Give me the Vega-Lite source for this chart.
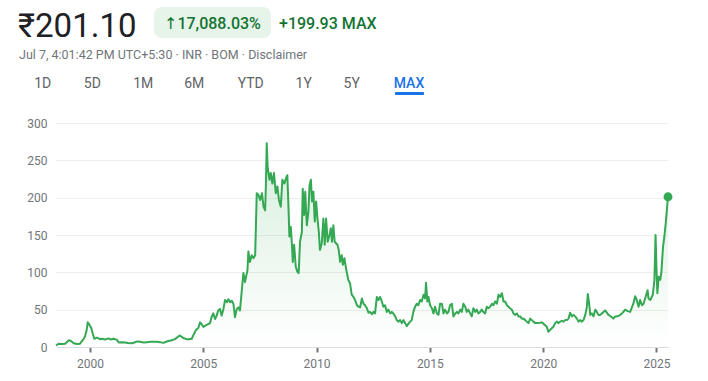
{
  "$schema": "https://vega.github.io/schema/vega-lite/v6.json",
  "width": 612,
  "height": 224,
  "autosize": {"type": "none"},
  "padding": {"left": 56, "top": 123, "right": 40, "bottom": 34},
  "background": "white",
  "config": {"view": {"stroke": null}, "font": "Roboto, 'DejaVu Sans', sans-serif"},
  "data": {"values": [
    {"year":1998.50,"price":2},{"year":1998.63,"price":4.5},{"year":1998.76,"price":4},{"year":1998.90,"price":4.5},{"year":1999.07,"price":9},{"year":1999.16,"price":8},{"year":1999.28,"price":5},{"year":1999.43,"price":4},{"year":1999.56,"price":4.5},{"year":1999.72,"price":11},{"year":1999.78,"price":14},{"year":1999.85,"price":22},{"year":1999.90,"price":33},{"year":1999.97,"price":30},{"year":2000.06,"price":25},{"year":2000.12,"price":18},{"year":2000.19,"price":11},{"year":2000.31,"price":12.5},{"year":2000.44,"price":10.5},{"year":2000.53,"price":11},{"year":2000.66,"price":10},{"year":2000.83,"price":11.5},{"year":2000.90,"price":10},{"year":2001.05,"price":11},{"year":2001.19,"price":9.5},{"year":2001.27,"price":6},{"year":2001.41,"price":6.5},{"year":2001.55,"price":6},{"year":2001.68,"price":5.5},{"year":2001.85,"price":5},{"year":2001.96,"price":6},{"year":2002.08,"price":7.5},{"year":2002.21,"price":7},{"year":2002.37,"price":6},{"year":2002.52,"price":6.5},{"year":2002.65,"price":7},{"year":2002.78,"price":7},{"year":2002.94,"price":7},{"year":2003.09,"price":6.5},{"year":2003.24,"price":5.5},{"year":2003.36,"price":7},{"year":2003.46,"price":8},{"year":2003.61,"price":9},{"year":2003.75,"price":10.5},{"year":2003.90,"price":14},{"year":2003.97,"price":15.5},{"year":2004.05,"price":13.5},{"year":2004.12,"price":12},{"year":2004.27,"price":10.5},{"year":2004.37,"price":10.5},{"year":2004.49,"price":11},{"year":2004.59,"price":17.5},{"year":2004.68,"price":23},{"year":2004.78,"price":25.5},{"year":2004.86,"price":33},{"year":2004.93,"price":30.5},{"year":2005.00,"price":27},{"year":2005.15,"price":29.5},{"year":2005.30,"price":32},{"year":2005.37,"price":40.5},{"year":2005.44,"price":45},{"year":2005.52,"price":37.5},{"year":2005.59,"price":42},{"year":2005.66,"price":49},{"year":2005.74,"price":51},{"year":2005.81,"price":42},{"year":2005.89,"price":51},{"year":2005.96,"price":63},{"year":2006.04,"price":60},{"year":2006.11,"price":64},{"year":2006.18,"price":60},{"year":2006.26,"price":62},{"year":2006.33,"price":58},{"year":2006.40,"price":40},{"year":2006.48,"price":51},{"year":2006.55,"price":53},{"year":2006.62,"price":49},{"year":2006.70,"price":76},{"year":2006.77,"price":99},{"year":2006.84,"price":87},{"year":2006.95,"price":103},{"year":2006.99,"price":128},{"year":2007.06,"price":114},{"year":2007.14,"price":123},{"year":2007.21,"price":119},{"year":2007.29,"price":123},{"year":2007.36,"price":206},{"year":2007.43,"price":204},{"year":2007.51,"price":197},{"year":2007.59,"price":206},{"year":2007.66,"price":188},{"year":2007.73,"price":183},{"year":2007.77,"price":224},{"year":2007.80,"price":273},{"year":2007.84,"price":241},{"year":2007.92,"price":224},{"year":2007.98,"price":233},{"year":2008.05,"price":219},{"year":2008.12,"price":233},{"year":2008.20,"price":206},{"year":2008.27,"price":215},{"year":2008.34,"price":197},{"year":2008.42,"price":188},{"year":2008.49,"price":224},{"year":2008.58,"price":219},{"year":2008.65,"price":226},{"year":2008.71,"price":230},{"year":2008.76,"price":188},{"year":2008.80,"price":148},{"year":2008.86,"price":161},{"year":2008.91,"price":139},{"year":2008.95,"price":114},{"year":2009.01,"price":137},{"year":2009.08,"price":108},{"year":2009.15,"price":101},{"year":2009.21,"price":99},{"year":2009.27,"price":141},{"year":2009.35,"price":154},{"year":2009.39,"price":212},{"year":2009.45,"price":177},{"year":2009.50,"price":208},{"year":2009.57,"price":163},{"year":2009.64,"price":181},{"year":2009.69,"price":217},{"year":2009.75,"price":224},{"year":2009.80,"price":195},{"year":2009.86,"price":208},{"year":2009.92,"price":168},{"year":2009.98,"price":195},{"year":2010.04,"price":172},{"year":2010.10,"price":154},{"year":2010.15,"price":130},{"year":2010.23,"price":139},{"year":2010.30,"price":172},{"year":2010.36,"price":137},{"year":2010.42,"price":172},{"year":2010.49,"price":141},{"year":2010.57,"price":150},{"year":2010.63,"price":159},{"year":2010.68,"price":141},{"year":2010.74,"price":163},{"year":2010.80,"price":141},{"year":2010.86,"price":139},{"year":2010.92,"price":137},{"year":2010.98,"price":130},{"year":2011.04,"price":114},{"year":2011.11,"price":123},{"year":2011.16,"price":110},{"year":2011.23,"price":119},{"year":2011.30,"price":105},{"year":2011.36,"price":96},{"year":2011.40,"price":90},{"year":2011.48,"price":85},{"year":2011.55,"price":70},{"year":2011.63,"price":67},{"year":2011.70,"price":63},{"year":2011.78,"price":56},{"year":2011.85,"price":54},{"year":2011.92,"price":53},{"year":2012.00,"price":65},{"year":2012.07,"price":58},{"year":2012.14,"price":56},{"year":2012.22,"price":52},{"year":2012.29,"price":46},{"year":2012.36,"price":47},{"year":2012.44,"price":44},{"year":2012.51,"price":47},{"year":2012.58,"price":45},{"year":2012.66,"price":67},{"year":2012.73,"price":63},{"year":2012.80,"price":67},{"year":2012.88,"price":61},{"year":2012.95,"price":54},{"year":2013.02,"price":56},{"year":2013.10,"price":47},{"year":2013.17,"price":50},{"year":2013.25,"price":45},{"year":2013.32,"price":47},{"year":2013.39,"price":45},{"year":2013.47,"price":41},{"year":2013.54,"price":36},{"year":2013.61,"price":34},{"year":2013.69,"price":36},{"year":2013.76,"price":32},{"year":2013.83,"price":36},{"year":2013.91,"price":32},{"year":2013.98,"price":28},{"year":2014.05,"price":31},{"year":2014.13,"price":34},{"year":2014.20,"price":36},{"year":2014.27,"price":47},{"year":2014.35,"price":54},{"year":2014.42,"price":58},{"year":2014.49,"price":56},{"year":2014.57,"price":63},{"year":2014.64,"price":61},{"year":2014.72,"price":70},{"year":2014.79,"price":65},{"year":2014.83,"price":86},{"year":2014.89,"price":61},{"year":2014.94,"price":67},{"year":2015.01,"price":56},{"year":2015.09,"price":52},{"year":2015.16,"price":45},{"year":2015.23,"price":54},{"year":2015.31,"price":45},{"year":2015.38,"price":43},{"year":2015.45,"price":58},{"year":2015.53,"price":58},{"year":2015.60,"price":45},{"year":2015.67,"price":50},{"year":2015.75,"price":45},{"year":2015.82,"price":47},{"year":2015.89,"price":56},{"year":2015.97,"price":58},{"year":2016.04,"price":41},{"year":2016.12,"price":45},{"year":2016.19,"price":47},{"year":2016.26,"price":45},{"year":2016.34,"price":50},{"year":2016.41,"price":47},{"year":2016.48,"price":58},{"year":2016.56,"price":54},{"year":2016.63,"price":47},{"year":2016.70,"price":50},{"year":2016.78,"price":45},{"year":2016.85,"price":41},{"year":2016.92,"price":52},{"year":2017.00,"price":47},{"year":2017.07,"price":50},{"year":2017.14,"price":45},{"year":2017.22,"price":47},{"year":2017.29,"price":50},{"year":2017.36,"price":47},{"year":2017.44,"price":45},{"year":2017.51,"price":54},{"year":2017.58,"price":52},{"year":2017.66,"price":54},{"year":2017.74,"price":58},{"year":2017.81,"price":56},{"year":2017.88,"price":61},{"year":2017.96,"price":58},{"year":2018.03,"price":70},{"year":2018.10,"price":67},{"year":2018.18,"price":72},{"year":2018.25,"price":61},{"year":2018.32,"price":61},{"year":2018.40,"price":56},{"year":2018.47,"price":54},{"year":2018.54,"price":52},{"year":2018.62,"price":50},{"year":2018.69,"price":45},{"year":2018.76,"price":43},{"year":2018.84,"price":45},{"year":2018.91,"price":41},{"year":2018.99,"price":41},{"year":2019.06,"price":38},{"year":2019.13,"price":38},{"year":2019.21,"price":36},{"year":2019.28,"price":34},{"year":2019.35,"price":32},{"year":2019.43,"price":38},{"year":2019.50,"price":36},{"year":2019.57,"price":34},{"year":2019.65,"price":32},{"year":2019.79,"price":32},{"year":2019.94,"price":33},{"year":2020.09,"price":29},{"year":2020.16,"price":27},{"year":2020.23,"price":20.5},{"year":2020.31,"price":23},{"year":2020.38,"price":25},{"year":2020.45,"price":27},{"year":2020.53,"price":32},{"year":2020.60,"price":34},{"year":2020.68,"price":32},{"year":2020.75,"price":34},{"year":2020.83,"price":35},{"year":2020.90,"price":34},{"year":2020.97,"price":36},{"year":2021.05,"price":36},{"year":2021.12,"price":38},{"year":2021.19,"price":46},{"year":2021.27,"price":41},{"year":2021.34,"price":43},{"year":2021.41,"price":41},{"year":2021.49,"price":38},{"year":2021.56,"price":34},{"year":2021.63,"price":36},{"year":2021.71,"price":34},{"year":2021.78,"price":36},{"year":2021.86,"price":43},{"year":2021.93,"price":54},{"year":2021.97,"price":71},{"year":2022.03,"price":58},{"year":2022.08,"price":43},{"year":2022.15,"price":45},{"year":2022.22,"price":41},{"year":2022.30,"price":50},{"year":2022.37,"price":47},{"year":2022.44,"price":43},{"year":2022.52,"price":43},{"year":2022.59,"price":45},{"year":2022.66,"price":47},{"year":2022.74,"price":49},{"year":2022.81,"price":46},{"year":2022.88,"price":43},{"year":2022.96,"price":41.5},{"year":2023.03,"price":40},{"year":2023.10,"price":38},{"year":2023.18,"price":41},{"year":2023.25,"price":41},{"year":2023.32,"price":41.5},{"year":2023.40,"price":43},{"year":2023.51,"price":46},{"year":2023.62,"price":50},{"year":2023.73,"price":48},{"year":2023.84,"price":47},{"year":2023.98,"price":58},{"year":2024.06,"price":68},{"year":2024.13,"price":63},{"year":2024.21,"price":54},{"year":2024.28,"price":63},{"year":2024.36,"price":56},{"year":2024.43,"price":58},{"year":2024.55,"price":70},{"year":2024.61,"price":76},{"year":2024.65,"price":65},{"year":2024.73,"price":63},{"year":2024.84,"price":70},{"year":2024.91,"price":90},{"year":2024.96,"price":150},{"year":2025.00,"price":107},{"year":2025.04,"price":72},{"year":2025.10,"price":94},{"year":2025.17,"price":90},{"year":2025.22,"price":101},{"year":2025.29,"price":134},{"year":2025.35,"price":148},{"year":2025.41,"price":166},{"year":2025.51,"price":201.1}
  ]},
  "encoding": {
    "x": {"field": "year", "type": "quantitative", "scale": {"domain": [1998.5, 2025.51], "nice": false, "zero": false},
          "axis": {"title": null, "values": [2000, 2005, 2010, 2015, 2020, 2025], "format": "d", "grid": false, "domainColor": "#dadce0", "domainWidth": 1, "tickColor": "#70757a", "tickSize": 5, "tickWidth": 2, "labelColor": "#70757a", "labelFontSize": 12, "labelPadding": 6, "labelFont": "Roboto", "labelOverlap": false}},
    "y": {"field": "price", "type": "quantitative", "scale": {"domain": [0, 300], "nice": false},
          "axis": {"title": null, "values": [0, 50, 100, 150, 200, 250, 300], "tickCount": 7, "domain": false, "ticks": false, "gridColor": "#eeeeee", "gridWidth": 1, "labelColor": "#70757a", "labelFontSize": 12, "labelPadding": 9, "labelFont": "Roboto", "labelOverlap": false, "labelFlush": false}}
  },
  "layer": [
    {
      "mark": {"type": "area", "interpolate": "linear", "color": {"gradient": "linear", "x1": 0, "y1": 0, "x2": 0, "y2": 1, "stops": [{"offset": 0, "color": "rgba(52,168,83,0.2)"}, {"offset": 1, "color": "rgba(52,168,83,0)"}]}}
    },
    {
      "mark": {"type": "line", "color": "#34a853", "strokeWidth": 2, "strokeJoin": "round"}
    },
    {
      "transform": [{"filter": "datum.year >= 2025.5"}],
      "mark": {"type": "point", "filled": true, "color": "#34a853", "size": 80, "opacity": 1}
    },
    {
      "data": {"values": [{"label": "₹201.10"}]},
      "mark": {"type": "text", "align": "left", "baseline": "alphabetic", "fontSize": 33, "color": "#202124", "font": "Roboto, 'DejaVu Sans', sans-serif"},
      "encoding": {"text": {"field": "label"}, "x": {"value": -38}, "y": {"value": -86}}
    },
    {
      "data": {"values": [{"label": "badge"}]},
      "mark": {"type": "rect", "color": "#e6f4ea", "cornerRadius": 8},
      "encoding": {"x": {"value": 98}, "x2": {"value": 215}, "y": {"value": -116}, "y2": {"value": -85}}
    },
    {
      "data": {"values": [{"label": "↑17,088.03%"}]},
      "mark": {"type": "text", "align": "left", "baseline": "alphabetic", "fontSize": 16, "fontWeight": 500, "color": "#137333"},
      "encoding": {"text": {"field": "label"}, "x": {"value": 108}, "y": {"value": -94.5}}
    },
    {
      "data": {"values": [{"label": "+199.93 MAX"}]},
      "mark": {"type": "text", "align": "left", "baseline": "alphabetic", "fontSize": 16, "fontWeight": 500, "color": "#137333"},
      "encoding": {"text": {"field": "label"}, "x": {"value": 223}, "y": {"value": -94.5}}
    },
    {
      "data": {"values": [{"label": "Jul 7, 4:01:42 PM UTC+5:30 · INR · BOM · Disclaimer"}]},
      "mark": {"type": "text", "align": "left", "baseline": "alphabetic", "fontSize": 12.5, "color": "#70757a"},
      "encoding": {"text": {"field": "label"}, "x": {"value": -37}, "y": {"value": -64.5}}
    },
    {"data": {"values": [{"tab": "1D"}]}, "mark": {"type": "text", "align": "center", "baseline": "alphabetic", "fontSize": 14, "fontWeight": "normal", "color": "#5f6368"}, "encoding": {"text": {"field": "tab"}, "x": {"value": -13.3}, "y": {"value": -35}}},
    {"data": {"values": [{"tab": "5D"}]}, "mark": {"type": "text", "align": "center", "baseline": "alphabetic", "fontSize": 14, "fontWeight": "normal", "color": "#5f6368"}, "encoding": {"text": {"field": "tab"}, "x": {"value": 36.3}, "y": {"value": -35}}},
    {"data": {"values": [{"tab": "1M"}]}, "mark": {"type": "text", "align": "center", "baseline": "alphabetic", "fontSize": 14, "fontWeight": "normal", "color": "#5f6368"}, "encoding": {"text": {"field": "tab"}, "x": {"value": 87.3}, "y": {"value": -35}}},
    {"data": {"values": [{"tab": "6M"}]}, "mark": {"type": "text", "align": "center", "baseline": "alphabetic", "fontSize": 14, "fontWeight": "normal", "color": "#5f6368"}, "encoding": {"text": {"field": "tab"}, "x": {"value": 138.3}, "y": {"value": -35}}},
    {"data": {"values": [{"tab": "YTD"}]}, "mark": {"type": "text", "align": "center", "baseline": "alphabetic", "fontSize": 14, "fontWeight": "normal", "color": "#5f6368"}, "encoding": {"text": {"field": "tab"}, "x": {"value": 194.7}, "y": {"value": -35}}},
    {"data": {"values": [{"tab": "1Y"}]}, "mark": {"type": "text", "align": "center", "baseline": "alphabetic", "fontSize": 14, "fontWeight": "normal", "color": "#5f6368"}, "encoding": {"text": {"field": "tab"}, "x": {"value": 247.7}, "y": {"value": -35}}},
    {"data": {"values": [{"tab": "5Y"}]}, "mark": {"type": "text", "align": "center", "baseline": "alphabetic", "fontSize": 14, "fontWeight": "normal", "color": "#5f6368"}, "encoding": {"text": {"field": "tab"}, "x": {"value": 295.7}, "y": {"value": -35}}},
    {"data": {"values": [{"tab": "MAX"}]}, "mark": {"type": "text", "align": "center", "baseline": "alphabetic", "fontSize": 14, "fontWeight": 500, "color": "#1a73e8"}, "encoding": {"text": {"field": "tab"}, "x": {"value": 353}, "y": {"value": -35}}},
    {"data": {"values": [{"tab": "MAX"}]}, "mark": {"type": "rect", "color": "#1a73e8", "cornerRadius": 1}, "encoding": {"x": {"value": 339}, "x2": {"value": 368}, "y": {"value": -31}, "y2": {"value": -28}}}
  ]
}
